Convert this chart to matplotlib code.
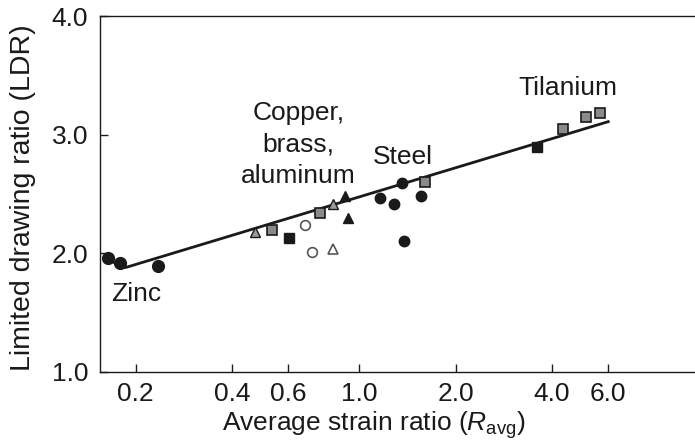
import numpy as np
import matplotlib
matplotlib.use("Agg")
import matplotlib.pyplot as plt

# data (x on log scale)
zinc_x = [0.164, 0.179, 0.235]
zinc_y = [1.96, 1.92, 1.89]
circle_x = [1.16, 1.28, 1.36, 1.38, 1.56]
circle_y = [2.47, 2.42, 2.59, 2.10, 2.48]
square_x = [0.604, 3.60]
square_y = [2.13, 2.90]
tri_x = [0.904, 0.925]
tri_y = [2.48, 2.30]
open_circle_x = [0.678, 0.713]
open_circle_y = [2.24, 2.01]
open_tri_x = [0.829]
open_tri_y = [2.04]
hatch_sq_x = [0.535, 0.755, 1.61, 4.34, 5.12, 5.66]
hatch_sq_y = [2.20, 2.34, 2.60, 3.05, 3.15, 3.18]
hatch_tri_x = [0.473, 0.83]
hatch_tri_y = [2.18, 2.42]

fit_x = [0.16, 0.186, 6.0]
fit_y = [1.96, 1.88, 3.11]

x_ticks = [0.2, 0.4, 0.6, 1.0, 2.0, 4.0, 6.0]
x_ticklabels = ["0.2", "0.4", "0.6", "1.0", "2.0", "4.0", "6.0"]
y_ticks = [1.0, 2.0, 3.0, 4.0]
y_ticklabels = ["1.0", "2.0", "3.0", "4.0"]

plt.rcParams['font.family'] = ['Liberation Sans', 'DejaVu Sans']
plt.rcParams['mathtext.fontset'] = 'custom'
plt.rcParams['mathtext.rm'] = 'Liberation Sans'
plt.rcParams['mathtext.it'] = 'Liberation Sans:italic'

ink = '#1a1a1a'
fs = 19
fig = plt.figure(figsize=(6.95, 4.46), dpi=100)
ax = fig.add_axes([0.144, 0.166, 0.856, 0.798])

ax.plot(fit_x, fit_y, color=ink, lw=2.0, zorder=2)

ax.plot(zinc_x, zinc_y, 'o', color=ink, ms=8.5, zorder=3)
ax.plot(circle_x, circle_y, 'o', color=ink, ms=7.5, zorder=3)
ax.plot(square_x, square_y, 's', color=ink, ms=7.5, zorder=3)
ax.plot(tri_x, tri_y, '^', color=ink, ms=7.5, zorder=3)
ax.plot(open_circle_x, open_circle_y, 'o', mfc='white', mec='#555555',
        mew=1.2, ms=7, ls='none', zorder=3)
ax.plot(open_tri_x, open_tri_y, '^', mfc='white', mec='#555555',
        mew=1.2, ms=7, ls='none', zorder=3)
ax.plot(hatch_sq_x, hatch_sq_y, 's', mfc='#8a8a8a', mec=ink,
        mew=1.2, ms=7, ls='none', zorder=3)
ax.plot(hatch_tri_x, hatch_tri_y, '^', mfc='#9a9a9a', mec=ink,
        mew=1.0, ms=6.5, ls='none', zorder=3)

ax.set_xscale('log')
ax.set_xlim(0.155, 11.2)
ax.set_ylim(1.0, 4.0)
ax.set_xticks(x_ticks)
ax.set_xticklabels(x_ticklabels)
ax.minorticks_off()
ax.set_yticks(y_ticks)
ax.set_yticklabels(y_ticklabels)
ax.tick_params(direction='in', length=6, width=1, colors=ink,
               labelsize=fs)
ax.tick_params(axis='x', pad=7)
ax.tick_params(axis='y', pad=8.5)

for s in ['top', 'bottom', 'left']:
    ax.spines[s].set_color(ink)
    ax.spines[s].set_linewidth(1.0)
ax.spines['right'].set_visible(False)

ax.set_ylabel('Limited drawing ratio (LDR)', fontsize=20.5, color=ink)
ax.yaxis.set_label_coords(-0.108, 0.49)
ax.set_xlabel(r'Average strain ratio ($\mathit{R}_{\mathrm{avg}}$)',
              fontsize=fs, color=ink)
ax.xaxis.set_label_coords(0.46, -0.105)

ax.text(0.201, 1.66, 'Zinc', fontsize=fs, color=ink, ha='center', va='center')
ax.text(0.645, 2.92, 'Copper,\nbrass,\naluminum', fontsize=fs, color=ink,
        ha='center', va='center', linespacing=1.4)
ax.text(1.37, 2.81, 'Steel', fontsize=fs, color=ink, ha='center', va='center')
ax.text(4.50, 3.39, 'Tilanium', fontsize=fs, color=ink, ha='center', va='center')

fig.savefig('out.png', dpi=100)
